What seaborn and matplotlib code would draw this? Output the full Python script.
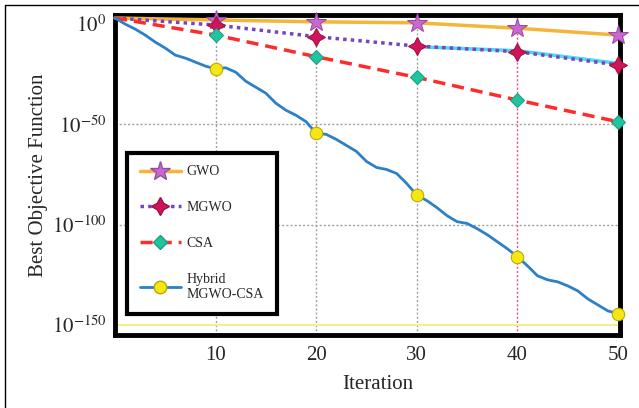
import numpy as np
import matplotlib
matplotlib.use("Agg")
import matplotlib.pyplot as plt
import seaborn as sns
from matplotlib.lines import Line2D

# data (exponents of 10)
iters_sparse = [0, 10, 20, 30, 40, 50]
gwo_exp = [3, 2, 1.1, 0.6, -2.1, -5.5]
mgwo_exp = [3, -0.5, -6.3, -11, -13.8, -20.4]
csa_exp = [3, -5.5, -16.3, -26.6, -37.9, -48.7]

iters = list(range(0, 51))
hybrid_exp = [3, 0, -2.5, -5.5, -9, -12, -15.5, -17, -19, -21,
              -22.4, -21.8, -24, -28.5, -31.5, -34.5, -39.5, -43, -45.5, -48.7,
              -54.5, -55, -57.5, -60.5, -63.5, -68.5, -71.5, -72.5, -74.5, -79.5,
              -85.3, -88, -91.5, -95.5, -98.5, -99.4, -102, -105, -108.5, -112,
              -116, -120.5, -125.5, -127.5, -128.5, -130.5, -133, -137, -140, -143,
              -144.3]

# stray cyan trace under MGWO in the picture
cyan_x = [30, 40, 50]
cyan_exp = [-11.3, -13.3, -19.6]

x_ticks = [10, 20, 30, 40, 50]
y_tick_exp = [0, -50, -100, -150]

sns.set_style('white')
plt.rcParams['font.family'] = ['Liberation Serif', 'DejaVu Serif']
plt.rcParams['mathtext.fontset'] = 'stix'

fig = plt.figure(figsize=(6.39, 4.08), dpi=100)
ax = fig.add_axes([115/639, 1 - 335/408, 505/639, 320/408])
ax.set_yscale('log')

def pw(e):
    return [10.0 ** v for v in e]

# grid lines
for xv in [10, 20, 30]:
    ax.axvline(xv, color='#a0a0a0', ls=(0, (1.5, 1.5)), lw=1, zorder=1)
ax.axvline(40, color='#e0508a', ls=(0, (1.5, 1.5)), lw=1, zorder=1)
for ev in [-50, -100]:
    ax.axhline(10.0 ** ev, color='#a0a0a0', ls=(0, (1.5, 1.5)), lw=1, zorder=1)
ax.axhline(1e-150, color='#f4f08a', lw=1.5, zorder=1)

gwo_style = dict(color='#f5b53a', lw=2.5, ls='-', marker='*', ms=15,
                 mfc='#c968d0', mec='#9a4aa0')
mgwo_style = dict(color='#7444c4', lw=2.5, ls=(0, (1, 1.2)), marker=(4, 1, 0), ms=13,
                  mfc='#d0145a', mec='#a01040')
csa_style = dict(color='#ff2a2a', lw=2.5, ls=(0, (3.5, 2)), marker='D', ms=7,
                 mfc='#22c4a0', mec='#18a080')
hyb_style = dict(color='#2c80c8', lw=2, ls='-', marker='o', ms=9,
                 mfc='#f5e614', mec='#b8a800')

sns.lineplot(x=cyan_x, y=pw(cyan_exp), ax=ax, color='#50d8ee', lw=2.5, zorder=2)
sns.lineplot(x=iters_sparse, y=pw(gwo_exp), ax=ax, markevery=[1, 2, 3, 4, 5],
             clip_on=False, zorder=4, **gwo_style)
sns.lineplot(x=iters_sparse, y=pw(mgwo_exp), ax=ax, markevery=[1, 2, 3, 4, 5],
             clip_on=False, zorder=4, **mgwo_style)
sns.lineplot(x=iters_sparse, y=pw(csa_exp), ax=ax, markevery=[1, 2, 3, 4, 5],
             clip_on=False, zorder=4, **csa_style)
sns.lineplot(x=iters, y=pw(hybrid_exp), ax=ax, markevery=[10, 20, 30, 40, 50],
             clip_on=False, zorder=4, **hyb_style)

ax.set_xlim(0, 50.2)
ax.set_ylim(10.0 ** -155, 10.0 ** 4.5)
ax.set_xticks(x_ticks)
ax.set_xticklabels([str(v) for v in x_ticks], fontsize=15)
ax.set_yticks([10.0 ** e for e in y_tick_exp])
ax.set_yticklabels(['$10^{%d}$' % e for e in y_tick_exp], fontsize=15)
ax.yaxis.set_minor_locator(matplotlib.ticker.NullLocator())
ax.tick_params(length=0, pad=8)
ax.tick_params(axis='y', pad=6)
for s in ax.spines.values():
    s.set_linewidth(3.5)
    s.set_color('black')
    s.set_zorder(3)

ax.set_xlabel('Iteration', fontsize=15)
ax.xaxis.set_label_coords(0.52, -0.125)
ax.set_ylabel('Best Objective Function', fontsize=15)
ax.yaxis.set_label_coords(-0.133, 0.5)

handles = [Line2D([], [], **gwo_style), Line2D([], [], **mgwo_style),
           Line2D([], [], **csa_style), Line2D([], [], **hyb_style)]
labels = ['GWO', 'MGWO', 'CSA', 'Hybrid\nMGWO-CSA']
leg = ax.legend(handles, labels, loc='upper left', bbox_to_anchor=(0.024, 0.569),
                borderaxespad=0, fontsize=10, handlelength=3.0, labelspacing=1.65,
                handletextpad=0.4, borderpad=0.9, fancybox=False, framealpha=1)
leg.get_frame().set_edgecolor('black')
leg.get_frame().set_linewidth(3)
leg.set_zorder(5)

# thin border around the figure
fig.add_artist(Line2D([5/639, 1], [1 - 5/408, 1 - 5/408], color='black', lw=1))
fig.add_artist(Line2D([5/639, 5/639], [0, 1 - 5/408], color='black', lw=1))

fig.savefig('out.png', dpi=100)
